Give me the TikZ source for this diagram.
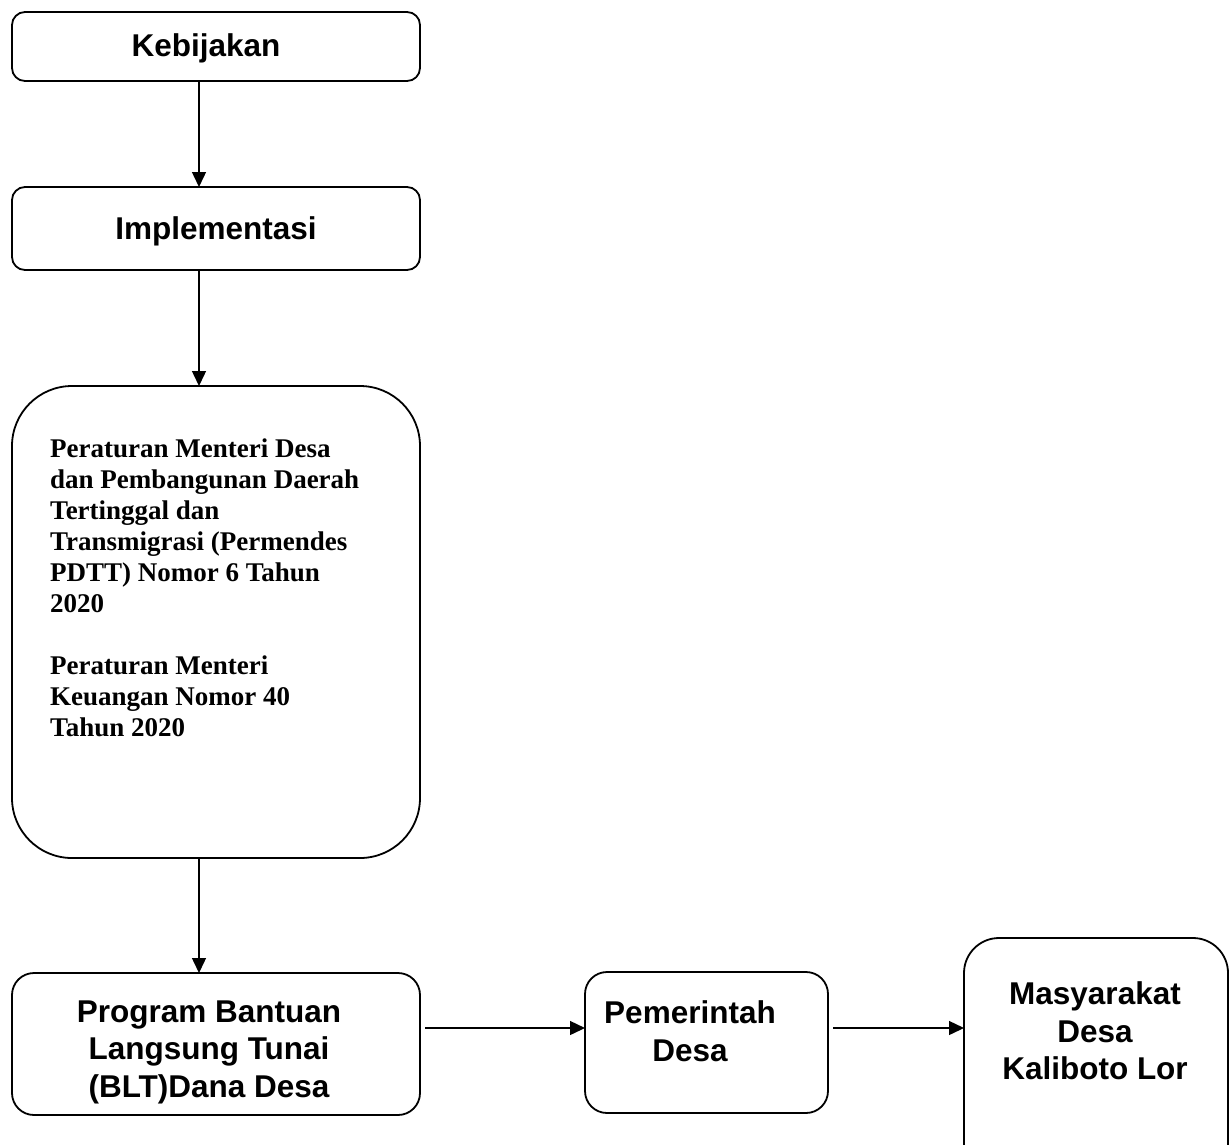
\documentclass[tikz,border=0pt]{standalone}
\usepackage{fontspec}
\setmainfont{Liberation Sans}
\newfontfamily\serifbf{Liberation Serif}
\usetikzlibrary{arrows.meta}
\begin{document}
\begin{tikzpicture}[x=1pt,y=-1pt,
  box/.style={draw, line width=1.8pt, rounded corners=#1, inner sep=0pt, outer sep=0pt},
  box/.default=13pt,
  lbl/.style={font=\fontsize{31.5}{37.5}\selectfont\bfseries, align=center, inner sep=0pt},
  conn/.style={line width=1.4pt, -{Triangle[length=15pt,width=14pt]}}]
\useasboundingbox (0,0) rectangle (1231,1144);
% boxes
\node[box, minimum width=408pt, minimum height=69pt] (keb) at (216,46.5) {};
\node[box, minimum width=408pt, minimum height=83pt] (impl) at (216,228.5) {};
\node[box=60pt, minimum width=408pt, minimum height=472pt] (per) at (216,622) {};
\node[box=22pt, minimum width=408pt, minimum height=142pt] (prog) at (216,1044) {};
\node[box=22pt, minimum width=243pt, minimum height=141pt] (pem) at (706.5,1042.5) {};
\node[box=35pt, minimum width=264pt, minimum height=242pt] (mas) at (1096,1059) {};
% texts
\node[lbl] (tkeb) at (206,48) {Kebijakan};
\node[lbl] (timpl) at (216,231) {Implementasi};
\node[anchor=north west, align=left, inner sep=0pt,
      font=\fontsize{27}{30.9}\selectfont\serifbf\bfseries] (tper) at (50,439)
  {Peraturan Menteri Desa\\ dan Pembangunan Daerah\\ Tertinggal dan\\ Transmigrasi (Permendes\\ PDTT) Nomor 6 Tahun\\ 2020\\ ~\\ Peraturan Menteri\\ Keuangan Nomor 40\\ Tahun 2020};
\node[lbl] (tprog) at (209,1052) {Program Bantuan\\ Langsung Tunai\\ (BLT)Dana Desa};
\node[lbl] (tpem) at (690,1031) {Pemerintah\\ Desa};
\node[lbl] (tmas) at (1095,1031) {Masyarakat\\ Desa\\ Kaliboto Lor};
% connectors
\draw[conn] ([xshift=-17pt]keb.south) coordinate (v1) -- (v1 |- impl.north);
\draw[conn] ([xshift=-17pt]impl.south) coordinate (v2) -- (v2 |- per.north);
\draw[conn] ([xshift=-17pt]per.south) coordinate (v3) -- (v3 |- prog.north);
\draw[conn] ([xshift=5pt,yshift=16pt]prog.east) coordinate (h1) -- (h1 -| pem.west);
\draw[conn] ([xshift=5pt,yshift=14.5pt]pem.east) coordinate (h2) -- (h2 -| mas.west);
\end{tikzpicture}
\end{document}
